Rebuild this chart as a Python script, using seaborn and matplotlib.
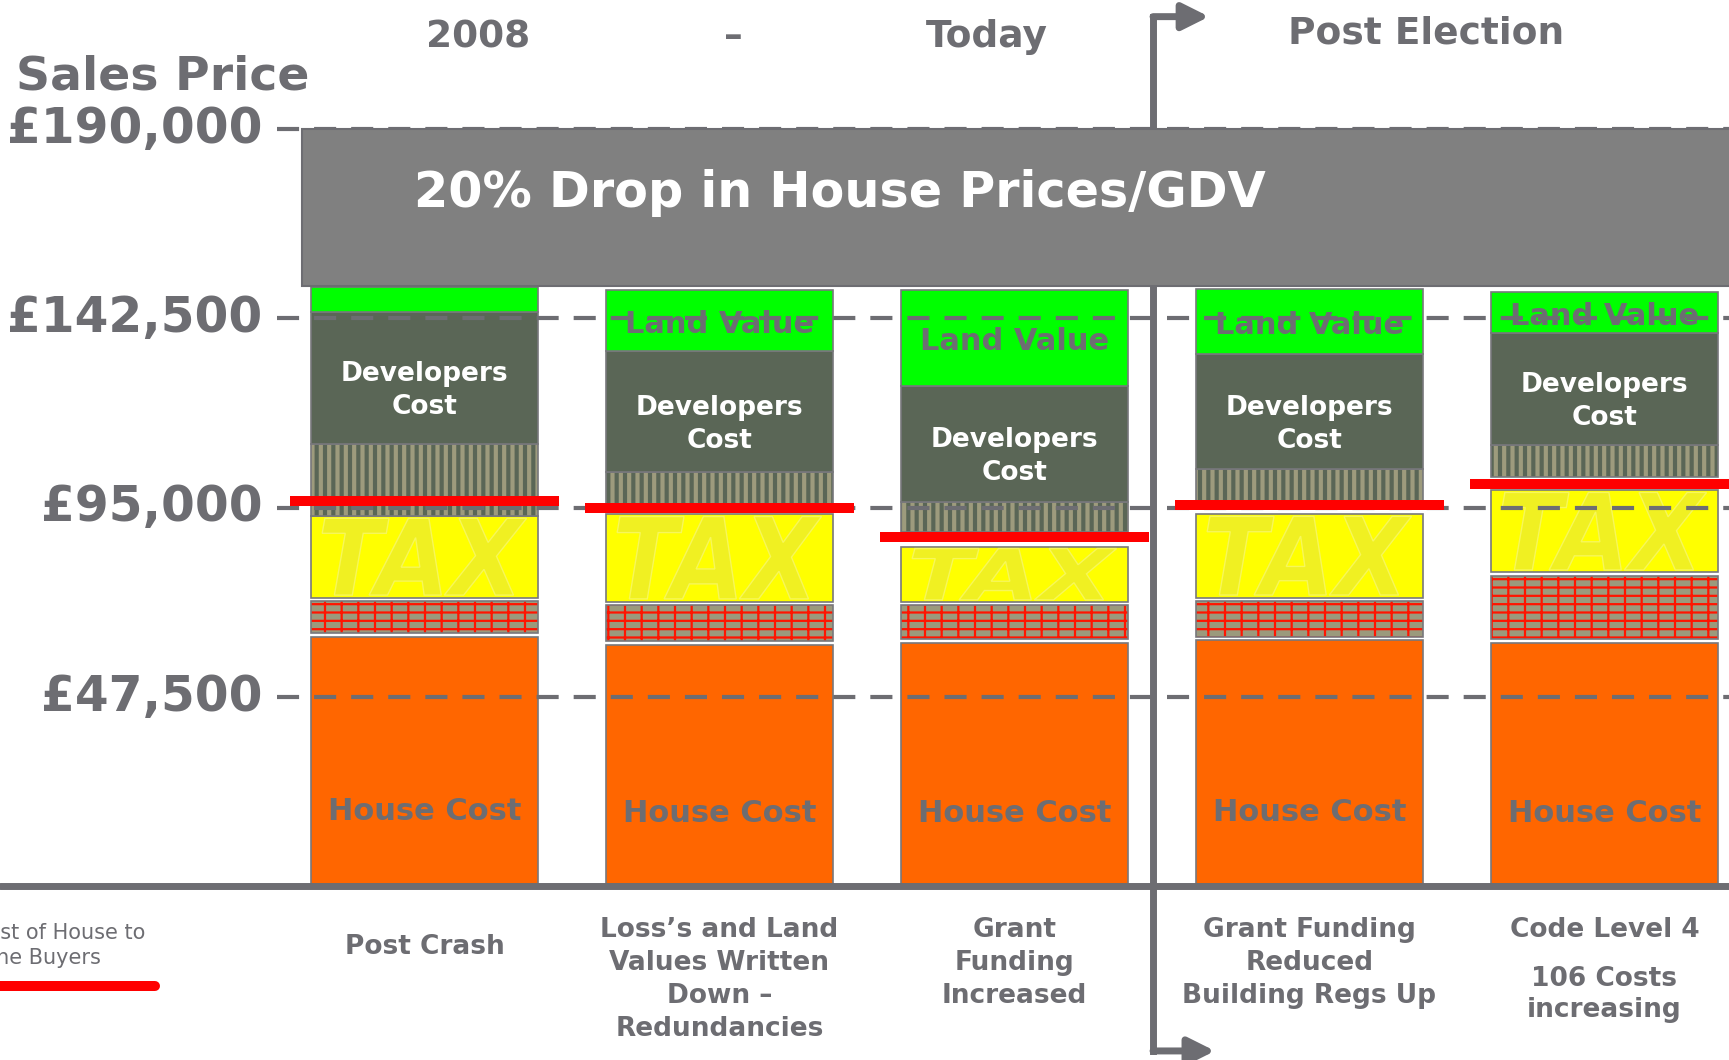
import numpy as np
import matplotlib
matplotlib.use('Agg')
import matplotlib.pyplot as plt
import seaborn as sns
from matplotlib.patches import Rectangle, PathPatch
from matplotlib.textpath import TextPath
from matplotlib.font_manager import FontProperties
from matplotlib.transforms import Affine2D
from matplotlib.lines import Line2D

# --- values (GBP) ---
scenarios = ['Post Crash',
             'Loss\u2019s and Land\nValues Written\nDown \u2013\nRedundancies',
             'Grant\nFunding\nIncreased',
             'Grant Funding\nReduced\nBuilding Regs Up',
             'Code Level 4']
scenario_notes = ['', '', '', '', '106 Costs\nincreasing']
house_top = [62500, 60500, 61000, 61700, 61000]
brick_top = [71500, 70500, 70500, 71500, 77800]
tax_top = [92900, 93400, 85100, 93400, 99400]
fees_base = [92900, 95600, 88900, 96400, 102700]
fees_top = [110900, 103900, 96400, 104700, 110700]
dev_top = [144100, 134300, 125500, 133500, 138800]
land_top = [150400, 149600, 149600, 149900, 149100]
buyer_cost = [96600, 94900, 87600, 95600, 100900]
land_labels = ['', 'Land Value', 'Land Value', 'Land Value', 'Land Value']
price_ticks = [47500, 95000, 142500, 190000]
gdv_before = 190000
gdv_after = 150500

# --- colours ---
TXT = '#6d6d72'
EDGE = '#78787c'
BOX = '#808080'
ORANGE = '#ff6600'
BRICK = '#9b9a7c'
MORTAR = '#ff1500'
YELLOW = '#ffff00'
TAXC = '#f0f022'
DEV = '#5a6656'
STRIPE = '#9d9b7d'
GREEN = '#00ff00'
RED = '#ff0000'

sns.set_theme(style='white')
plt.rcParams['font.family'] = ['DejaVu Sans']

W, H = 1729, 1060
fig = plt.figure(figsize=(W / 100, H / 100), dpi=100)
ax = fig.add_axes([0, 174 / H, 1, 757 / H])

x = np.arange(len(scenarios))
bw = 0.77
GAP = 900


def px(xp, yp):
    return xp / W, 1 - yp / H


def layer(bottom, top, **kw):
    return ax.bar(x, np.subtract(top, bottom), bottom=bottom, width=bw, zorder=2, **kw)


def hatch_lw(bars, lw):
    for p in bars:
        if hasattr(p, 'set_hatch_linewidth'):
            p.set_hatch_linewidth(lw)


# house cost base
sns.barplot(x=x, y=house_top, color=ORANGE, saturation=1, width=bw,
            edgecolor=EDGE, linewidth=1.2, errorbar=None, ax=ax, zorder=2)

# brick layer
with plt.rc_context({'hatch.linewidth': 1.6}):
    b = layer(np.add(house_top, GAP), brick_top, color=BRICK, edgecolor=MORTAR,
              hatch='--|', linewidth=0)
hatch_lw(b, 1.6)
layer(np.add(house_top, GAP), brick_top, facecolor='none', edgecolor=EDGE, linewidth=1.2)

# tax layer
layer(np.add(brick_top, GAP), tax_top, color=YELLOW, edgecolor=EDGE, linewidth=1.2)
fp = FontProperties(family='DejaVu Sans', weight='bold', style='oblique')
tp = TextPath((0, 0), 'TAX', size=1, prop=fp)
bb = tp.get_extents()
for i in x:
    y0 = brick_top[i] + GAP
    h = tax_top[i] - y0
    tr = (Affine2D().translate(-bb.x0, -bb.y0)
          .scale(bw * 0.9 / bb.width, h * 0.94 / bb.height)
          .translate(i - bw * 0.45, y0 + h * 0.03))
    ax.add_patch(PathPatch(tp, transform=tr + ax.transData, facecolor=TAXC,
                           edgecolor='#f7f75a', linewidth=1, zorder=2.5))

# striped fees layer
with plt.rc_context({'hatch.linewidth': 3.0}):
    s = layer(fees_base, fees_top, color=DEV, edgecolor=STRIPE, hatch='||', linewidth=0)
hatch_lw(s, 3.0)
layer(fees_base, fees_top, facecolor='none', edgecolor=EDGE, linewidth=1.2)

# developers cost and land value
layer(fees_top, dev_top, color=DEV, edgecolor=EDGE, linewidth=1.2)
layer(dev_top, land_top, color=GREEN, edgecolor=EDGE, linewidth=1.2)

# dashed price levels
ax.hlines(price_ticks, -0.50, 4.6, colors=TXT, linewidth=3,
          linestyles=(0, (5.3, 3.6)), zorder=4, clip_on=False)
for v in price_ticks:
    ax.annotate('\u00a3{:,}'.format(v), xy=(-0.55, v), xytext=(0, -10),
                textcoords='offset points', ha='right', va='baseline',
                fontsize=35, fontweight='bold', color=TXT)

# cost of house to the buyers
ax.hlines(buyer_cost, x - 0.455, x + 0.455, colors=RED, linewidth=7.2, zorder=5)

# segment labels
for i in x:
    ax.text(i, 0.3 * house_top[i], 'House Cost', ha='center', va='center',
            fontsize=22, fontweight='bold', color=TXT, zorder=6)
    ax.text(i, (fees_top[i] + dev_top[i]) / 2 - 3200, 'Developers\nCost', ha='center',
            va='center', fontsize=19, fontweight='bold', color='white',
            linespacing=1.35, zorder=6)
    ax.text(i, (dev_top[i] + land_top[i]) / 2 - 1000, land_labels[i], ha='center',
            va='center', fontsize=22, fontweight='bold', color=TXT, zorder=3)

# 20% drop box
ax.add_patch(Rectangle((-0.415, gdv_after), 6, gdv_before - gdv_after, facecolor=BOX,
                       edgecolor=TXT, linewidth=1.5, zorder=7, clip_on=False))
fig.text(*px(840, 193), '20% Drop in House Prices/GDV', ha='center', va='center',
         fontsize=35.5, fontweight='bold', color='white', zorder=8)

# divider between "today" and "post election"
ax.plot([2.47, 2.47], [218200, -41400], color=TXT, lw=5, solid_capstyle='projecting',
        clip_on=False, zorder=6.5)
for yy, tip in [(218200, 2.66), (-41400, 2.68)]:
    ax.annotate('', xy=(tip, yy), xytext=(2.47, yy), annotation_clip=False,
                arrowprops=dict(arrowstyle='-|>', color=TXT, lw=5, mutation_scale=40,
                                shrinkA=0, shrinkB=0), zorder=6.5)

# baseline
ax.axhline(0, color=TXT, lw=5, zorder=6, clip_on=False)

# scenario labels under the bars
for i in x:
    top = -0.064 if i == 0 else -0.0403
    ax.text(i, top, scenarios[i], transform=ax.get_xaxis_transform(), ha='center',
            va='top', fontsize=19, fontweight='bold', color=TXT, linespacing=1.35)
    if scenario_notes[i]:
        ax.text(i, -0.1057, scenario_notes[i], transform=ax.get_xaxis_transform(),
                ha='center', va='top', fontsize=19, fontweight='bold', color=TXT,
                linespacing=1.27)

# headings
fig.text(*px(16, 89), 'Sales Price', ha='left', va='baseline', fontsize=34,
         fontweight='bold', color=TXT)
for label, xp, yp in [('2008', 478, 37), ('\u2013', 733, 37), ('Today', 987, 37),
                      ('Post Election', 1426, 34)]:
    fig.text(*px(xp, yp), label, ha='center', va='center', fontsize=27,
             fontweight='bold', color=TXT)

# legend key
fig.text(*px(145, 933), 'Cost of House to', ha='right', va='center', fontsize=15, color=TXT)
fig.text(*px(101, 958), 'the Buyers', ha='right', va='center', fontsize=15, color=TXT)
fig.add_artist(Line2D([0, 155 / W], [1 - 986 / H] * 2, color=RED, lw=7.2))

ax.set_xlim(-1.4386, 4.4224)
ax.set_ylim(0, gdv_before)
ax.set_axis_off()

fig.savefig('out.png', dpi=100)
